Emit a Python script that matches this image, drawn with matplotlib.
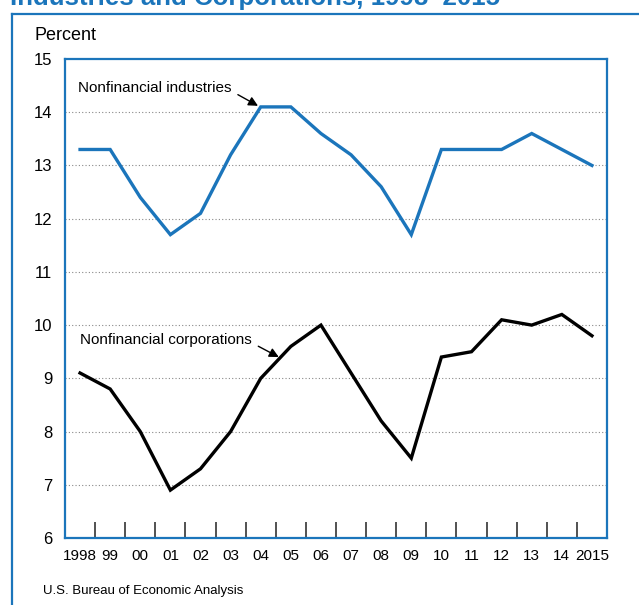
import matplotlib
matplotlib.use("Agg")
import matplotlib.pyplot as plt
from matplotlib.lines import Line2D

BLUE = "#1b75bb"

years = list(range(1998, 2016))
year_labels = ["1998", "99", "00", "01", "02", "03", "04", "05", "06",
               "07", "08", "09", "10", "11", "12", "13", "14", "2015"]
industries = [13.3, 13.3, 12.4, 11.7, 12.1, 13.2, 14.1, 14.1, 13.6,
              13.2, 12.6, 11.7, 13.3, 13.3, 13.3, 13.6, 13.3, 13.0]
corporations = [9.1, 8.8, 8.0, 6.9, 7.3, 8.0, 9.0, 9.6, 10.0,
                9.1, 8.2, 7.5, 9.4, 9.5, 10.1, 10.0, 10.2, 9.8]
y_ticks = [6, 7, 8, 9, 10, 11, 12, 13, 14, 15]

plt.rcParams["font.family"] = ["Liberation Sans", "DejaVu Sans"]

fig = plt.figure(figsize=(6.39, 6.05), dpi=100)
ax = fig.add_axes([65 / 639, 67 / 605, 542 / 639, 479 / 605])

x = list(range(len(years)))
ax.plot(x, industries, color=BLUE, linewidth=2.4, solid_joinstyle="miter")
ax.plot(x, corporations, color="black", linewidth=2.4, solid_joinstyle="miter")

ax.set_xlim(-0.5, len(years) - 0.5)
ax.set_ylim(6, 15)
ax.set_yticks(y_ticks)
ax.set_yticklabels([str(v) for v in y_ticks], fontsize=12)
ax.set_xticks(x)
ax.set_xticklabels(year_labels, fontsize=11)
ax.set_xticks([i + 0.5 for i in x[:-1]], minor=True)
ax.tick_params(axis="x", which="major", length=0, pad=8)
ax.tick_params(axis="x", which="minor", length=11.5, width=1.1,
               direction="in", color="#222222")
ax.tick_params(axis="y", length=0, pad=9)

for v in y_ticks[1:-1]:
    ax.axhline(v, color="#888888", linewidth=0.8, linestyle=(0, (1, 2)), zorder=0)

for s in ax.spines.values():
    s.set_color(BLUE)
    s.set_linewidth(1.6)

arrow = dict(arrowstyle="-|>", color="black", lw=1.0, mutation_scale=14,
             shrinkA=3, shrinkB=0, relpos=(1.0, 0.3))
ax.annotate("Nonfinancial industries", xy=(5.91, 14.12), xytext=(-0.07, 14.45),
            fontsize=11, va="center", ha="left", arrowprops=arrow)
ax.annotate("Nonfinancial corporations", xy=(6.6, 9.4), xytext=(0.0, 9.72),
            fontsize=11, va="center", ha="left", arrowprops=arrow)

fig.text(35 / 639, 1 - 35 / 605, "Percent", fontsize=13, va="center", ha="left")
fig.text(43 / 639, 1 - 591 / 605, "U.S. Bureau of Economic Analysis",
         fontsize=9.5, va="center", ha="left")
fig.text(10 / 639, 1 - 5 / 605, "Industries and Corporations, 1998\u20132015",
         fontsize=18.6, fontweight="bold", color=BLUE, va="baseline", ha="left")

fx, fy = 12 / 639, 1 - 14 / 605
fig.add_artist(Line2D([fx, 1.0], [fy, fy], color=BLUE, linewidth=1.6,
                      transform=fig.transFigure))
fig.add_artist(Line2D([fx, fx], [0, fy], color=BLUE, linewidth=1.6,
                      transform=fig.transFigure))

fig.savefig("out.png", dpi=100)
